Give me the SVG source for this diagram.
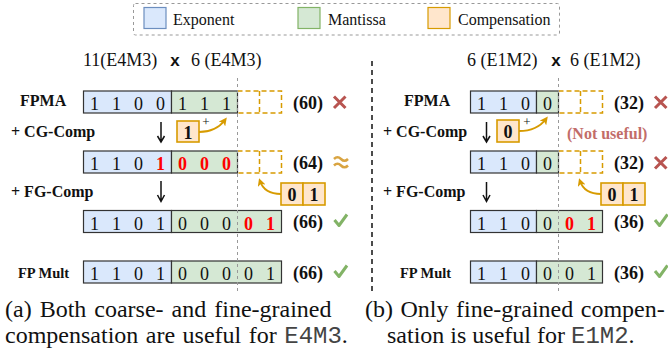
<svg xmlns="http://www.w3.org/2000/svg" width="668" height="358" viewBox="0 0 668 358">
<style>
.ce{fill:#dae8fc;stroke:#333;stroke-width:1.2}
.cm{fill:#d5e8d4;stroke:#333;stroke-width:1.2}
.cc{fill:#ffe6cc;stroke:#d79b00;stroke-width:1.6}
.dash{fill:none;stroke:#d79b00;stroke-width:1.5;stroke-dasharray:5 3}
.d{font-family:"Liberation Serif",serif;font-size:18px;text-anchor:middle;fill:#111}
.plus{font-family:"Liberation Serif",serif;font-size:13px;text-anchor:middle;fill:#111}
.red{fill:#ff0000;font-weight:bold}
.b{font-weight:bold}
.lbl{font-family:"Liberation Serif",serif;font-weight:bold;font-size:16px;fill:#111}
.val{font-family:"Liberation Serif",serif;font-weight:bold;font-size:18px;fill:#111}
.leg{font-family:"Liberation Serif",serif;font-size:16px;fill:#111}
.ttl{font-family:"Liberation Serif",serif;font-size:18px;fill:#111}
.xx{font-family:"Liberation Sans",sans-serif;font-weight:bold;font-size:17px;fill:#111;text-anchor:middle}
.cap{font-family:"Liberation Serif",serif;font-size:24px;fill:#111}
.mono{font-family:"Liberation Mono",monospace;fill:#444}
.bad{fill:none;stroke:#b85450;stroke-width:3}
.ok{fill:none;stroke:#82b366;stroke-width:3;stroke-linejoin:round}
.curv{fill:none;stroke:#d79b00;stroke-width:2}
.down{fill:none;stroke:#111;stroke-width:1.5}
.guide{stroke:#999;stroke-width:1;stroke-dasharray:3 3}
</style>
<defs>
<marker id="oa" markerWidth="8" markerHeight="8" refX="5" refY="4" orient="auto" markerUnits="userSpaceOnUse">
<path d="M0,0 L8,4 L0,8 L2,4 Z" fill="#d79b00"/>
</marker>
</defs>

<g id="legend">
<rect x="133.5" y="3.5" width="426" height="31.5" rx="2" fill="none" stroke="#999" stroke-dasharray="3 3"/>
<rect x="144" y="7.5" width="22" height="21" fill="#dae8fc" stroke="#6c8ebf" stroke-width="1.2"/>
<text class="leg" x="173" y="25">Exponent</text>
<rect x="298" y="7.5" width="22" height="21" fill="#d5e8d4" stroke="#82b366" stroke-width="1.2"/>
<text class="leg" x="328" y="25">Mantissa</text>
<rect x="428" y="7.5" width="22" height="21" fill="#ffe6cc" stroke="#d79b00" stroke-width="1.2"/>
<text class="leg" x="458" y="25">Compensation</text>
</g>

<g id="title-left">
<text class="ttl" x="83" y="66">11(E4M3)</text>
<text class="xx" x="175" y="66">x</text>
<text class="ttl" x="191" y="66">6 (E4M3)</text>
</g>
<g id="title-right">
<text class="ttl" x="467" y="66">6 (E1M2)</text>
<text class="xx" x="556" y="66">x</text>
<text class="ttl" x="570" y="66">6 (E1M2)</text>
</g>

<g id="labels">
<text class="lbl" x="20" y="106">FPMA</text>
<text class="lbl" x="11" y="137">+ CG-Comp</text>
<text class="lbl" x="11" y="196.5">+ FG-Comp</text>
<text class="lbl" x="18" y="277.5" style="font-size:14.5px">FP Mult</text>
<text class="lbl" x="404" y="106">FPMA</text>
<text class="lbl" x="383" y="137">+ CG-Comp</text>
<text class="lbl" x="383" y="196.5">+ FG-Comp</text>
<text class="lbl" x="400" y="277.5" style="font-size:14.5px">FP Mult</text>
</g>

<!-- Left panel rows -->
<g id="L-fpma">
<rect class="ce" x="83.5" y="91" width="88" height="22"/>
<rect class="cm" x="171.5" y="91" width="66" height="22"/>
<path class="dash" d="M237.5,91 H281.5 V113 H237.5 M259.5,91 V113"/>
<text class="d" y="110"><tspan x="94.5">1</tspan><tspan x="116.5">1</tspan><tspan x="138.5">0</tspan><tspan x="160.5">0</tspan><tspan x="182.5">1</tspan><tspan x="204.5">1</tspan><tspan x="226.5">1</tspan></text>
<text class="val" x="293" y="108.5">(60)</text>
<path class="bad" d="M334,96.5 L345.5,108 M345.5,96.5 L334,108"/>
</g>

<g id="L-cg-box">
<rect class="cc" x="177" y="121" width="22" height="21"/>
<text class="d b" x="188" y="138.5">1</text>
<text class="plus" x="206" y="126">+</text>
</g>

<g id="L-cg">
<rect class="ce" x="83.5" y="151" width="88" height="22"/>
<rect class="cm" x="171.5" y="151" width="66" height="22"/>
<path class="dash" d="M237.5,151 H281.5 V173 H237.5 M259.5,151 V173"/>
<text class="d" y="170"><tspan x="94.5">1</tspan><tspan x="116.5">1</tspan><tspan x="138.5">0</tspan><tspan x="160.5" class="red">1</tspan><tspan x="182.5" class="red">0</tspan><tspan x="204.5" class="red">0</tspan><tspan x="226.5" class="red">0</tspan></text>
<text class="val" x="293" y="168.5">(64)</text>
<path d="M334,159 q3.5,-3.5 7,0 t7,0 M334,165.5 q3.5,-3.5 7,0 t7,0" fill="none" stroke="#d9a441" stroke-width="2.5"/>
</g>

<g id="L-fg-box">
<rect class="cc" x="281" y="183" width="22" height="22"/>
<rect class="cc" x="303" y="183" width="22" height="22"/>
<text class="d b" y="200.5"><tspan x="292">0</tspan><tspan x="314">1</tspan></text>
</g>

<g id="L-fg">
<rect class="ce" x="83.5" y="210.5" width="88" height="22"/>
<rect class="cm" x="171.5" y="210.5" width="110" height="22"/>
<text class="d" y="229.5"><tspan x="94.5">1</tspan><tspan x="116.5">1</tspan><tspan x="138.5">0</tspan><tspan x="160.5">1</tspan><tspan x="182.5">0</tspan><tspan x="204.5">0</tspan><tspan x="226.5">0</tspan><tspan x="248.5" class="red">0</tspan><tspan x="270.5" class="red">1</tspan></text>
<text class="val" x="293" y="228">(66)</text>
<path class="ok" d="M334.5,220 L339,225.5 L347,214.5"/>
</g>

<g id="L-mult">
<rect class="ce" x="83.5" y="261" width="88" height="22"/>
<rect class="cm" x="171.5" y="261" width="110" height="22"/>
<text class="d" y="280"><tspan x="94.5">1</tspan><tspan x="116.5">1</tspan><tspan x="138.5">0</tspan><tspan x="160.5">1</tspan><tspan x="182.5">0</tspan><tspan x="204.5">0</tspan><tspan x="226.5">0</tspan><tspan x="248.5">0</tspan><tspan x="270.5">1</tspan></text>
<text class="val" x="293" y="278.5">(66)</text>
<path class="ok" d="M334.5,271 L339,276.5 L347,265.5"/>
</g>

<!-- Right panel rows -->
<g id="R-fpma">
<rect class="ce" x="470.5" y="91" width="66" height="22"/>
<rect class="cm" x="536.5" y="91" width="22" height="22"/>
<path class="dash" d="M558.5,91 H602.5 V113 H558.5 M580.5,91 V113"/>
<text class="d" y="110"><tspan x="481.5">1</tspan><tspan x="503.5">1</tspan><tspan x="525.5">0</tspan><tspan x="547.5">0</tspan></text>
<text class="val" x="614" y="108.5">(32)</text>
<path class="bad" d="M655,96.5 L666.5,108 M666.5,96.5 L655,108"/>
</g>

<g id="R-cg-box">
<rect class="cc" x="497" y="120" width="22" height="22"/>
<text class="d b" x="508" y="138">0</text>
<text class="plus" x="527" y="125.5">+</text>
</g>
<g id="R-note">
<text class="lbl" x="567" y="138.5" style="fill:#b85450;opacity:0.85">(Not useful)</text>
</g>

<g id="R-cg">
<rect class="ce" x="470.5" y="151" width="66" height="22"/>
<rect class="cm" x="536.5" y="151" width="22" height="22"/>
<path class="dash" d="M558.5,151 H602.5 V173 H558.5 M580.5,151 V173"/>
<text class="d" y="170"><tspan x="481.5">1</tspan><tspan x="503.5">1</tspan><tspan x="525.5">0</tspan><tspan x="547.5">0</tspan></text>
<text class="val" x="614" y="168.5">(32)</text>
<path class="bad" d="M655,157 L666.5,168.5 M666.5,157 L655,168.5"/>
</g>

<g id="R-fg-box">
<rect class="cc" x="601" y="183" width="22" height="22"/>
<rect class="cc" x="623" y="183" width="22" height="22"/>
<text class="d b" y="200.5"><tspan x="612">0</tspan><tspan x="634">1</tspan></text>
</g>

<g id="R-fg">
<rect class="ce" x="470.5" y="210.5" width="66" height="22"/>
<rect class="cm" x="536.5" y="210.5" width="66" height="22"/>
<text class="d" y="229.5"><tspan x="481.5">1</tspan><tspan x="503.5">1</tspan><tspan x="525.5">0</tspan><tspan x="547.5">0</tspan><tspan x="569.5" class="red">0</tspan><tspan x="591.5" class="red">1</tspan></text>
<text class="val" x="614" y="228">(36)</text>
<path class="ok" d="M655,220 L659.5,225.5 L667.5,214.5"/>
</g>

<g id="R-mult">
<rect class="ce" x="470.5" y="261" width="66" height="22"/>
<rect class="cm" x="536.5" y="261" width="66" height="22"/>
<text class="d" y="280"><tspan x="481.5">1</tspan><tspan x="503.5">1</tspan><tspan x="525.5">0</tspan><tspan x="547.5">0</tspan><tspan x="569.5">0</tspan><tspan x="591.5">1</tspan></text>
<text class="val" x="614" y="278.5">(36)</text>
<path class="ok" d="M655,271 L659.5,276.5 L667.5,265.5"/>
</g>

<g id="connectors">
<line class="guide" x1="237.5" y1="78" x2="237.5" y2="292"/>
<line class="guide" x1="558.5" y1="78" x2="558.5" y2="292"/>
<line x1="372" y1="61" x2="372" y2="292" stroke="#111" stroke-width="1.5" stroke-dasharray="5 4"/>
<path class="down" d="M161,122 V141 M157.5,136 L161,142 L164.5,136"/>
<path class="down" d="M161,181 V201 M157.5,195 L161,201.5 L164.5,195"/>
<path class="down" d="M486.5,122 V141 M483,136 L486.5,142 L490,136"/>
<path class="down" d="M486.5,182 V201 M483,195 L486.5,201.5 L490,195"/>
<path class="curv" d="M199,132 C211,132 219,128 225,120" marker-end="url(#oa)"/>
<path class="curv" d="M281,194 C270,194 263,190 260,181" marker-end="url(#oa)"/>
<path class="curv" d="M519,131 C531,131 540,127 546,119" marker-end="url(#oa)"/>
<path class="curv" d="M601,194 C590,194 583,190 580,181" marker-end="url(#oa)"/>
</g>

<g id="captions">
<text class="cap" x="5" y="317" style="word-spacing:2px">(a) Both coarse- and fine-grained</text>
<text class="cap" x="5" y="343" style="word-spacing:1.5px">compensation are useful for <tspan class="mono">E4M3</tspan>.</text>
<text class="cap" x="365" y="317" style="word-spacing:1.5px">(b) Only fine-grained compen-</text>
<text class="cap" x="387" y="343">sation is useful for <tspan class="mono">E1M2</tspan>.</text>
</g>
</svg>
